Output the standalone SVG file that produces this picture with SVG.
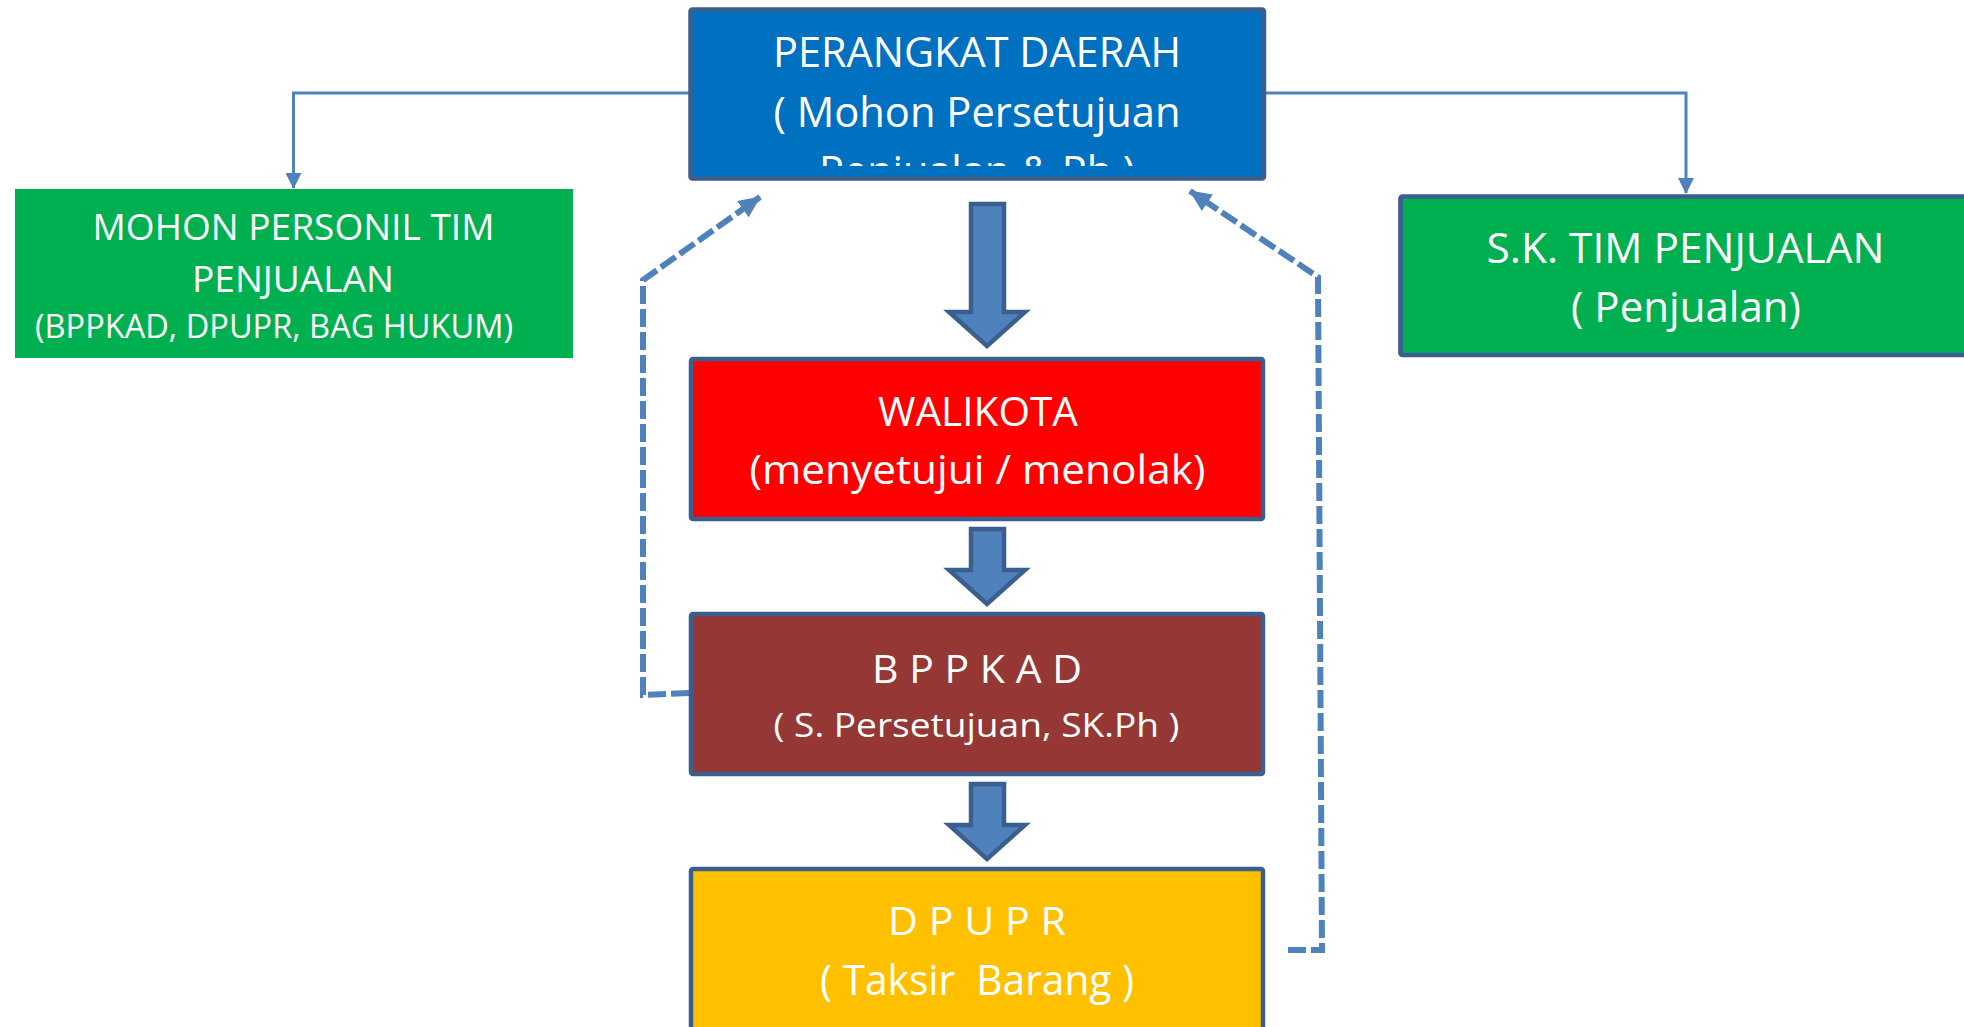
<svg xmlns="http://www.w3.org/2000/svg" width="1964" height="1027" viewBox="0 0 1964 1027">
<style>
  .box { stroke: #3A5F8F; stroke-width: 4.5; }
  .t { font-family: "Open Sans", "Noto Sans", sans-serif; fill: #FFFFFF; text-anchor: middle; }
  .blk { fill: #4F81BD; stroke: #3A5F8F; stroke-width: 4.5; stroke-linejoin: miter; }
  .conn { fill: none; stroke: #4F81BD; stroke-width: 3; }
  .dash { fill: none; stroke: #4F81BD; stroke-width: 6; stroke-dasharray: 18 5; }
</style>
<defs>
  <marker id="arrSolid" markerUnits="userSpaceOnUse" markerWidth="16" markerHeight="16" viewBox="0 0 16 16" refX="15" refY="8" orient="auto">
    <path d="M0,0 L16,8 L0,16 Z" fill="#4F81BD"/>
  </marker>
  <marker id="arrDash" markerUnits="userSpaceOnUse" markerWidth="22" markerHeight="20" viewBox="0 0 22 20" refX="21" refY="10" orient="auto">
    <path d="M0,0 L22,10 L0,20 Z" fill="#4F81BD"/>
  </marker>
  <clipPath id="clipTop">
    <rect x="692" y="12" width="570" height="154"/>
  </clipPath>
</defs>
<rect width="1964" height="1027" fill="#FFFFFF"/>

<g id="connectors">
  <path class="conn" d="M689,93 H293.5 V188" marker-end="url(#arrSolid)"/>
  <path class="conn" d="M1265,93 H1686 V193" marker-end="url(#arrSolid)"/>
  <path class="dash" d="M689,693 L643,695 V280 L760,197" marker-end="url(#arrDash)"/>
  <path class="dash" d="M1288,950 H1322 L1318,277 L1190,191" marker-end="url(#arrDash)"/>
  <polygon class="blk" points="971,204 1004,204 1004,312 1025,312 987,346 949,312 971,312"/>
  <polygon class="blk" points="971,529 1004,529 1004,570 1025,570 987,604 949,570 971,570"/>
  <polygon class="blk" points="971,784 1004,784 1004,825 1025,825 987,859 949,825 971,825"/>
</g>

<g id="perangkat-daerah">
  <rect class="box" x="690.5" y="9.5" width="573.5" height="169" rx="2" fill="#0070C0"/>
  <g clip-path="url(#clipTop)">
    <text class="t" x="977" y="67" font-size="42" textLength="408" lengthAdjust="spacingAndGlyphs">PERANGKAT DAERAH</text>
    <text class="t" x="977" y="127" font-size="42" textLength="407" lengthAdjust="spacingAndGlyphs">( Mohon Persetujuan</text>
    <text class="t" x="977" y="186" font-size="42" textLength="316" lengthAdjust="spacingAndGlyphs">Penjualan &amp; Ph )</text>
  </g>
</g>

<g id="mohon-personil">
  <rect x="15" y="189" width="558" height="169" fill="#00B050"/>
  <text class="t" x="293.5" y="240" font-size="37" textLength="402" lengthAdjust="spacingAndGlyphs">MOHON PERSONIL TIM</text>
  <text class="t" x="293" y="292" font-size="37" textLength="202" lengthAdjust="spacingAndGlyphs">PENJUALAN</text>
  <text class="t" x="274" y="338" font-size="32" textLength="478" lengthAdjust="spacingAndGlyphs">(BPPKAD, DPUPR, BAG HUKUM)</text>
</g>

<g id="sk-tim">
  <rect x="1400.5" y="196.5" width="600" height="158.5" rx="2" fill="#00B050" stroke="#3A5F8F" stroke-width="4.7"/>
  <text class="t" x="1685.5" y="263" font-size="42" textLength="398" lengthAdjust="spacingAndGlyphs">S.K. TIM PENJUALAN</text>
  <text class="t" x="1686" y="322" font-size="42" textLength="230" lengthAdjust="spacingAndGlyphs">( Penjualan)</text>
</g>

<g id="walikota">
  <rect class="box" x="691" y="359" width="572" height="160" rx="2" fill="#FF0000"/>
  <text class="t" x="978" y="426" font-size="41" textLength="200" lengthAdjust="spacingAndGlyphs">WALIKOTA</text>
  <text class="t" x="977.5" y="484" font-size="41" textLength="456" lengthAdjust="spacingAndGlyphs">(menyetujui / menolak)</text>
</g>

<g id="bppkad">
  <rect class="box" x="691" y="614" width="572" height="160" rx="2" fill="#953735"/>
  <text class="t" x="977" y="683" font-size="39" textLength="210" lengthAdjust="spacingAndGlyphs">B P P K A D</text>
  <text class="t" x="976.5" y="737" font-size="32" textLength="406" lengthAdjust="spacingAndGlyphs">( S. Persetujuan, SK.Ph )</text>
</g>

<g id="dpupr">
  <rect class="box" x="691" y="869" width="572" height="200" rx="2" fill="#FFC000"/>
  <text class="t" x="977" y="935" font-size="39" textLength="178" lengthAdjust="spacingAndGlyphs">D P U P R</text>
  <text class="t" x="977" y="995" font-size="42" textLength="314" lengthAdjust="spacingAndGlyphs" xml:space="preserve">( Taksir  Barang )</text>
</g>
</svg>
